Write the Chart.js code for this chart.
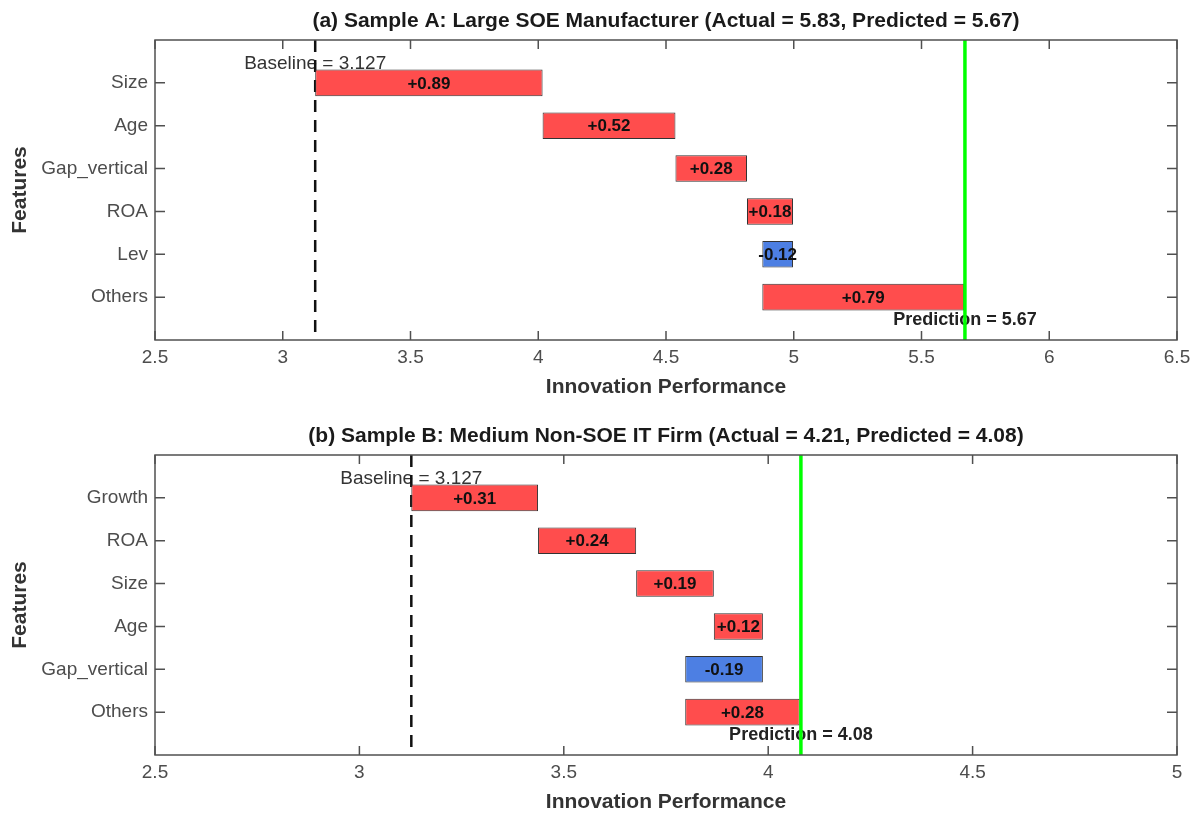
<!DOCTYPE html>
<html>
<head>
<meta charset="utf-8">
<script src="https://cdn.jsdelivr.net/npm/chart.js@4"></script>
<style>
body { margin: 0; background: #fff; }
.painel { position: relative; width: 1198px; height: 408px; }
</style>
</head>
<body>
<div class="painel"><canvas id="graficoA"></canvas></div>
<div class="painel"><canvas id="graficoB"></canvas></div>
<script>
var baseline = 3.127;

var featuresA = ['Size', 'Age', 'Gap_vertical', 'ROA', 'Lev', 'Others'];
var shapA = [0.89, 0.52, 0.28, 0.18, -0.12, 0.79];
var predictedA = 5.67;
var titleA = '(a) Sample A: Large SOE Manufacturer (Actual = 5.83, Predicted = 5.67)';
var xRangeA = [2.5, 6.5];

var featuresB = ['Growth', 'ROA', 'Size', 'Age', 'Gap_vertical', 'Others'];
var shapB = [0.31, 0.24, 0.19, 0.12, -0.19, 0.28];
var predictedB = 4.08;
var titleB = '(b) Sample B: Medium Non-SOE IT Firm (Actual = 4.21, Predicted = 4.08)';
var xRangeB = [2.5, 5];

var fonte = '"Liberation Sans", Arial, Helvetica, sans-serif';
var corPositivo = '#ff4d4d';
var corNegativo = '#4d7fe3';

// monta as barras flutuantes do waterfall a partir da baseline
function PegarBarras(valores) {
    var atual = baseline;
    var barras = [];
    for (var i = 0; i < valores.length; i++) {
        barras.push({ x: [atual, atual + valores[i]], y: i + 1 });
        atual += valores[i];
    }
    return barras;
}

function PegarCores(valores) {
    return valores.map(function (v) { return v >= 0 ? corPositivo : corNegativo; });
}

function FormatarValor(v) {
    return (v >= 0 ? '+' : '') + v.toFixed(2);
}

function PluginExtras(titulo, valores, predito) {
    return {
        id: 'extras',
        beforeDatasetsDraw: function (chart) {
            var ctx = chart.ctx, x = chart.scales.x, y = chart.scales.y, area = chart.chartArea;
            var bx = x.getPixelForValue(baseline);
            ctx.save();
            ctx.font = '19px ' + fonte;
            ctx.fillStyle = '#333';
            ctx.textAlign = 'center';
            ctx.textBaseline = 'middle';
            ctx.fillText('Baseline = ' + baseline, bx, y.getPixelForValue(0.55));

            ctx.strokeStyle = '#111';
            ctx.lineWidth = 2.5;
            ctx.setLineDash([12, 8]);
            ctx.beginPath();
            ctx.moveTo(bx, area.top);
            ctx.lineTo(bx, area.bottom);
            ctx.stroke();
            ctx.restore();
        },
        afterDatasetsDraw: function (chart) {
            var ctx = chart.ctx, x = chart.scales.x, y = chart.scales.y, area = chart.chartArea;
            ctx.save();

            // valores dentro das barras
            ctx.font = 'bold 17px ' + fonte;
            ctx.fillStyle = '#111';
            ctx.textAlign = 'center';
            ctx.textBaseline = 'middle';
            chart.getDatasetMeta(0).data.forEach(function (barra, i) {
                ctx.fillText(FormatarValor(valores[i]), (barra.x + barra.base) / 2, barra.y + 1);
            });

            // linha da predicao
            var px = x.getPixelForValue(predito);
            ctx.font = 'bold 18px ' + fonte;
            ctx.fillStyle = '#222';
            ctx.fillText('Prediction = ' + predito.toFixed(2), px, y.getPixelForValue(6.53));
            ctx.strokeStyle = '#00ff00';
            ctx.lineWidth = 3.5;
            ctx.beginPath();
            ctx.moveTo(px, area.top);
            ctx.lineTo(px, area.bottom);
            ctx.stroke();

            // caixa e ticks para dentro, estilo matlab
            ctx.strokeStyle = '#505050';
            ctx.lineWidth = 1.5;
            ctx.strokeRect(area.left, area.top, area.right - area.left, area.bottom - area.top);
            ctx.beginPath();
            x.ticks.forEach(function (t) {
                var p = x.getPixelForValue(t.value);
                ctx.moveTo(p, area.bottom); ctx.lineTo(p, area.bottom - 9);
                ctx.moveTo(p, area.top); ctx.lineTo(p, area.top + 9);
            });
            y.ticks.forEach(function (t) {
                var p = y.getPixelForValue(t.value);
                ctx.moveTo(area.left, p); ctx.lineTo(area.left + 10, p);
                ctx.moveTo(area.right, p); ctx.lineTo(area.right - 10, p);
            });
            ctx.stroke();

            // titulos
            var cx = (area.left + area.right) / 2;
            ctx.fillStyle = '#1a1a1a';
            ctx.font = 'bold 21px ' + fonte;
            ctx.fillText(titulo, cx, area.top - 19);
            ctx.fillStyle = '#333';
            ctx.fillText('Innovation Performance', cx, area.bottom + 47);
            ctx.translate(20, (area.top + area.bottom) / 2);
            ctx.rotate(-Math.PI / 2);
            ctx.fillText('Features', 0, 0);
            ctx.restore();
        }
    };
}

function CriarGrafico(id, nomes, valores, predito, titulo, faixa, topo, alturaX) {
    var ctx = document.getElementById(id).getContext('2d');
    return new Chart(ctx, {
        type: 'bar',
        data: {
            datasets: [{
                label: 'SHAP',
                data: PegarBarras(valores),
                backgroundColor: PegarCores(valores),
                borderColor: '#333',
                borderWidth: 1,
                borderSkipped: false,
                barPercentage: 0.62,
                categoryPercentage: 1
            }]
        },
        options: {
            indexAxis: 'y',
            responsive: true,
            maintainAspectRatio: false,
            animation: false,
            layout: { padding: { top: topo, right: 21, left: 0, bottom: 0 } },
            plugins: { legend: { display: false }, tooltip: { enabled: false }, title: { display: false } },
            scales: {
                x: {
                    type: 'linear',
                    min: faixa[0],
                    max: faixa[1],
                    offset: false,
                    grid: { display: false, drawTicks: false },
                    border: { display: false },
                    ticks: {
                        stepSize: 0.5,
                        padding: 6,
                        color: '#4d4d4d',
                        font: { family: fonte, size: 19 },
                        callback: function (v) { return String(v); }
                    },
                    afterFit: function (s) { s.height = alturaX; s.paddingLeft = 0; s.paddingRight = 0; }
                },
                y: {
                    type: 'linear',
                    reverse: true,
                    min: 0,
                    max: 7,
                    offset: false,
                    grid: { display: false, drawTicks: false, offset: false },
                    border: { display: false },
                    afterBuildTicks: function (s) {
                        s.ticks = s.ticks.filter(function (t) { return t.value >= 1 && t.value <= nomes.length; });
                    },
                    ticks: {
                        stepSize: 1,
                        padding: 7,
                        color: '#4d4d4d',
                        font: { family: fonte, size: 19 },
                        callback: function (v) { return nomes[v - 1] || ''; }
                    },
                    afterFit: function (s) { s.width = 155; s.paddingTop = 0; s.paddingBottom = 0; }
                }
            }
        },
        plugins: [PluginExtras(titulo, valores, predito)]
    });
}

CriarGrafico('graficoA', featuresA, shapA, predictedA, titleA, xRangeA, 40, 68);
CriarGrafico('graficoB', featuresB, shapB, predictedB, titleB, xRangeB, 47, 61);
</script>
</body>
</html>
